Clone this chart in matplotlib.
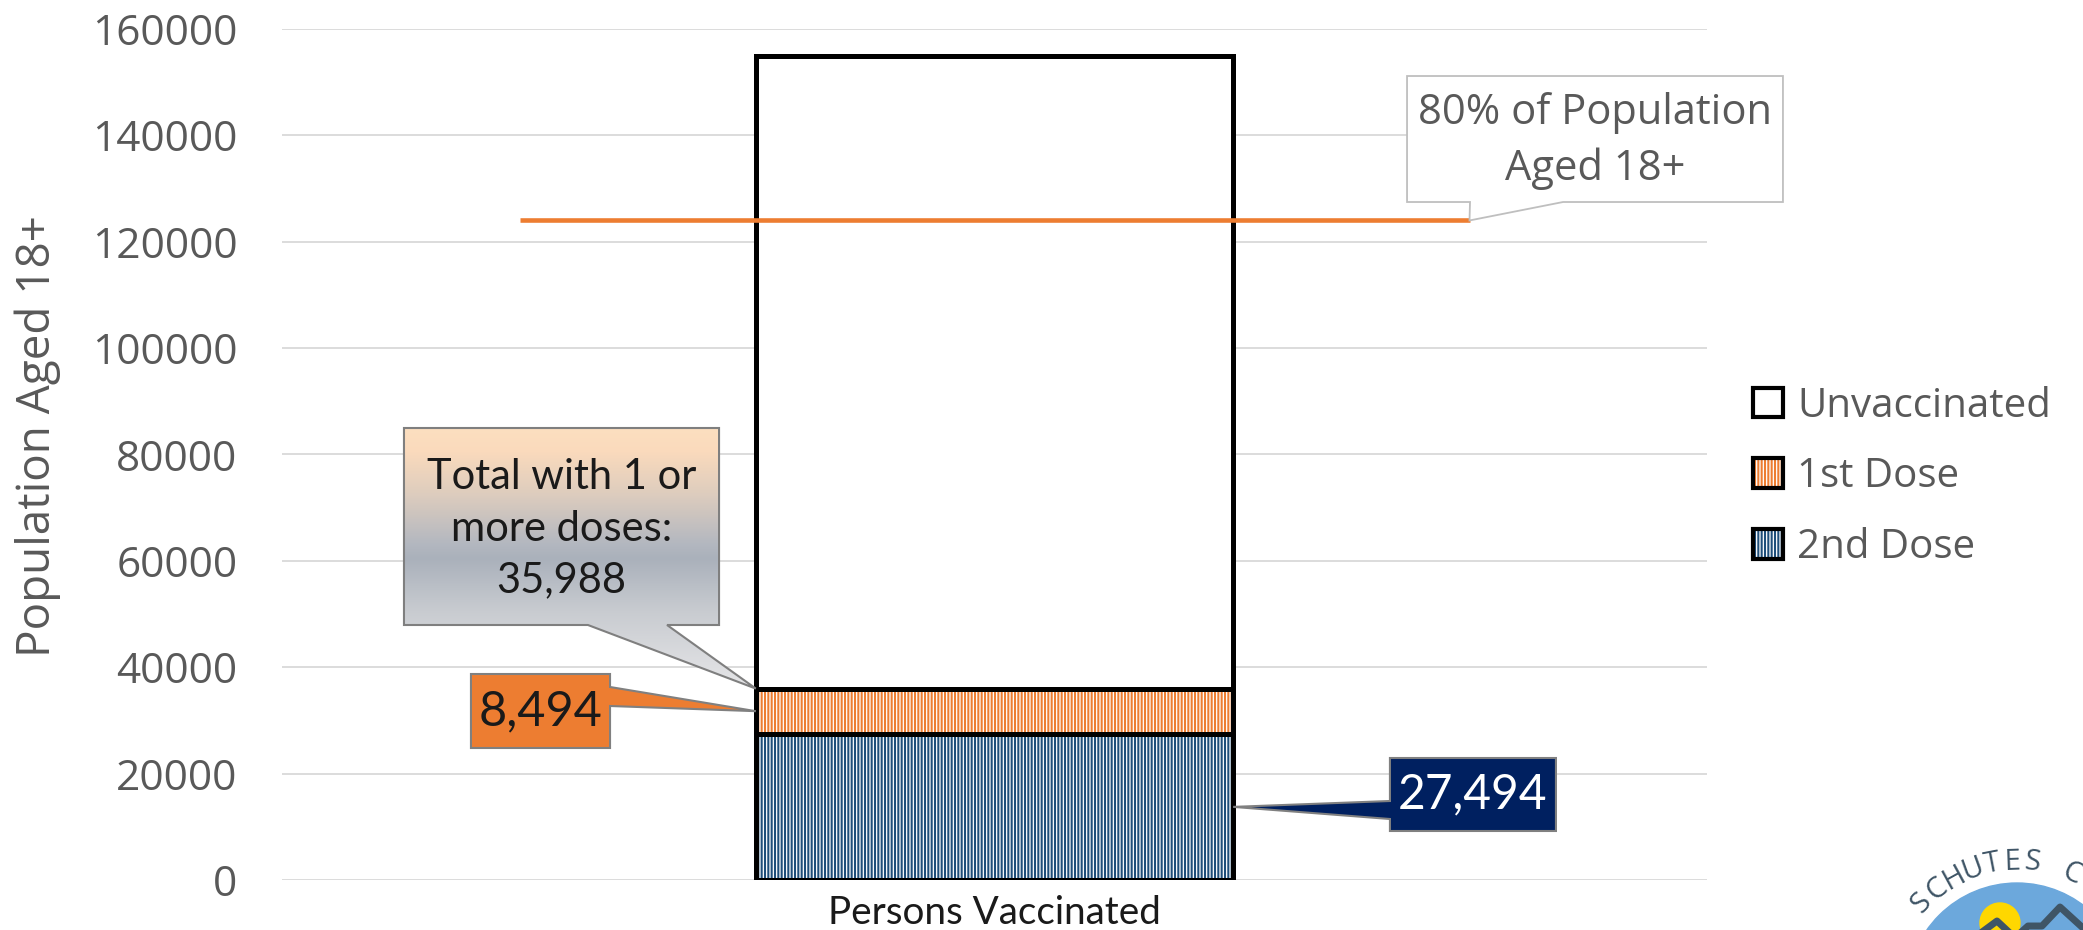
import numpy as np
import matplotlib
matplotlib.use("Agg")
import matplotlib.pyplot as plt
from matplotlib.patches import Polygon, Patch, Circle
from matplotlib.colors import LinearSegmentedColormap

# data
categories = ["Persons Vaccinated"]
second_dose = np.array([27494])
first_dose = np.array([8494])
unvaccinated = np.array([119012])
target_80 = 124000
yticks = [0, 20000, 40000, 60000, 80000, 100000, 120000, 140000, 160000]

orange = "#ED7D31"
blue = "#1F4E79"
navy = "#002060"
grey_txt = "#595959"

plt.rcParams["hatch.linewidth"] = 1.5
plt.rcParams["font.family"] = ["Open Sans", "DejaVu Sans"]

fig = plt.figure(figsize=(20.83, 9.30), dpi=100)
ax = fig.add_axes([282 / 2083, 50 / 930, 1425 / 2083, 851 / 930])

x = np.arange(len(categories))
w = 0.335
bottoms = np.zeros(len(categories))
for vals, col, hatch in [(second_dose, blue, "|||||"),
                         (first_dose, orange, "|||||"),
                         (unvaccinated, "white", None)]:
    ax.bar(x, vals, w, bottom=bottoms, color="white", edgecolor=col,
           hatch=hatch, linewidth=0, zorder=2)
    ax.bar(x, vals, w, bottom=bottoms, fill=False, edgecolor="black",
           linewidth=3.6, zorder=3)
    bottoms = bottoms + vals

# 80% line
ax.plot([-1 / 3, 1 / 3], [target_80, target_80], color=orange, lw=3.3,
        solid_capstyle="butt", zorder=4)

ax.set_xlim(-0.5, 0.5)
ax.set_ylim(0, 160000)
ax.set_yticks(yticks)
ax.set_yticklabels([str(t) for t in yticks])
ax.set_xticks(x)
ax.set_xticklabels(categories, fontsize=27.8, family=["Lato", "DejaVu Sans"], color="#1a1a1a")
ax.tick_params(axis="y", length=0, pad=32, labelsize=30.5, labelcolor=grey_txt)
ax.tick_params(axis="x", length=0, pad=11)
ax.yaxis.grid(True, color="#D9D9D9", lw=1.3)
ax.set_axisbelow(True)
for s in ax.spines.values():
    s.set_visible(False)
fig.text(38 / 2083, 1 - 436 / 930, "Population Aged 18+", rotation=90,
         ha="center", va="center", fontsize=33, color=grey_txt)

left = -w / 2
right = w / 2

# callout: 80% of population
bx0, bx1, by0, by1 = 0.2895, 0.5533, 127473, 151163
pts = [(bx0, by1), (bx1, by1), (bx1, by0), (0.399, by0), (1 / 3, target_80),
       (0.3337, by0), (bx0, by0)]
ax.add_patch(Polygon(pts, closed=True, facecolor="white", edgecolor="#BFBFBF",
                     lw=1.3, zorder=6, clip_on=False))
ax.text((bx0 + bx1) / 2, (by0 + by1) / 2 - 300, "80% of Population\nAged 18+",
        ha="center", va="center", fontsize=30, color=grey_txt,
        linespacing=1.42, zorder=7)

# callout: total with 1 or more doses (gradient)
total = int(second_dose[0] + first_dose[0])
bx0, bx1, by0, by1 = -0.4144, -0.1933, 47944, 84982
tip = (left, total)
pts = [(bx0, by1), (bx1, by1), (bx1, by0), (-0.2298, by0), tip,
       (-0.2853, by0), (bx0, by0)]
grad_cmap = LinearSegmentedColormap.from_list("callout", [
    (0.00, (252 / 255, 223 / 255, 192 / 255)),
    (0.09, (250 / 255, 218 / 255, 188 / 255)),
    (0.25, (222 / 255, 205 / 255, 190 / 255)),
    (0.44, (180 / 255, 184 / 255, 192 / 255)),
    (0.50, (170 / 255, 177 / 255, 187 / 255)),
    (0.70, (200 / 255, 203 / 255, 208 / 255)),
    (1.00, (230 / 255, 230 / 255, 232 / 255))])
poly = Polygon(pts, closed=True, facecolor="none", edgecolor="#7F7F7F",
               lw=1.5, zorder=6, clip_on=False)
ax.add_patch(poly)
grad = np.linspace(0, 1, 256).reshape(-1, 1)
im = ax.imshow(grad, cmap=grad_cmap, extent=(bx0, left, total, by1),
               origin="upper", aspect="auto", zorder=5)
im.set_clip_path(poly)
ax.text((bx0 + bx1) / 2, (by0 + by1) / 2 - 400,
        f"Total with 1 or\nmore doses:\n{total:,}",
        ha="center", va="center", fontsize=30, color="#1a1a1a",
        family=["Lato", "DejaVu Sans"], linespacing=1.45, zorder=7)

# callout: 1st dose
bx0, bx1, by0, by1 = -0.3674, -0.2698, 24818, 38731
tip = (left, second_dose[0] + first_dose[0] / 2)
pts = [(bx0, by1), (bx1, by1), (bx1, 36287), tip, (bx1, 32714),
       (bx1, by0), (bx0, by0)]
ax.add_patch(Polygon(pts, closed=True, facecolor=orange, edgecolor="#808080",
                     lw=1.5, zorder=6, clip_on=False))
ax.text((bx0 + bx1) / 2, (by0 + by1) / 2, f"{first_dose[0]:,}",
        ha="center", va="center", fontsize=35, color="#1a1a1a",
        family=["Lato", "DejaVu Sans"], zorder=7)

# callout: 2nd dose
bx0, bx1, by0, by1 = 0.2775, 0.3940, 9213, 22938
tip = (right, second_dose[0] / 2)
pts = [(bx0, by1), (bx1, by1), (bx1, by0), (bx0, by0), (bx0, 11469), tip,
       (bx0, 14853)]
ax.add_patch(Polygon(pts, closed=True, facecolor=navy, edgecolor="#808080",
                     lw=1.5, zorder=6, clip_on=False))
ax.text((bx0 + bx1) / 2, (by0 + by1) / 2, f"{second_dose[0]:,}",
        ha="center", va="center", fontsize=34.5, color="white",
        family=["Lato", "DejaVu Sans"], zorder=7)

ax.set_xlim(-0.5, 0.5)
ax.set_ylim(0, 160000)

# legend
handles = [
    (Patch(facecolor="white", lw=0), Patch(fill=False, edgecolor="black", lw=3)),
    (Patch(facecolor="white", edgecolor=orange, hatch="|||||", lw=0),
     Patch(fill=False, edgecolor="black", lw=3)),
    (Patch(facecolor="white", edgecolor=blue, hatch="|||||", lw=0),
     Patch(fill=False, edgecolor="black", lw=3)),
]
fig.legend(handles, ["Unvaccinated", "1st Dose", "2nd Dose"],
           loc="center left", bbox_to_anchor=(1753 / 2083, 1 - 477 / 930),
           frameon=False, fontsize=29, labelcolor=grey_txt,
           handlelength=0.75, handleheight=0.75, handletextpad=0.35,
           labelspacing=0.75, borderpad=0, borderaxespad=0)

# logo in the corner (only its top edge is in frame)
lax = fig.add_axes([0, 0, 1, 1], zorder=10)
lax.set_xlim(0, 2083)
lax.set_ylim(930, 0)
lax.axis("off")
lax.patch.set_alpha(0)
cx, cy = 2017, 993
lax.add_patch(Circle((cx, cy), 110, color="#6CA8DC", clip_on=True))
lax.add_patch(Circle((2000, 923), 20, color="#FFD700", clip_on=True))
lax.plot([1978, 1997, 2012], [935, 921, 935], color="#3F5566", lw=5)
lax.plot([2018, 2028, 2042, 2060, 2083], [935, 926, 926, 907, 928],
         color="#3F5566", lw=5)
R = 131
for i, ch in enumerate("SCHUTES C"):
    a = np.radians(-46.5 + 8.9 * i)
    lax.text(cx + R * np.sin(a), cy - R * np.cos(a), ch, rotation=-np.degrees(a),
             ha="center", va="center", fontsize=21, color="#3F5566",
             rotation_mode="anchor")

fig.savefig("out.png", dpi=100)
